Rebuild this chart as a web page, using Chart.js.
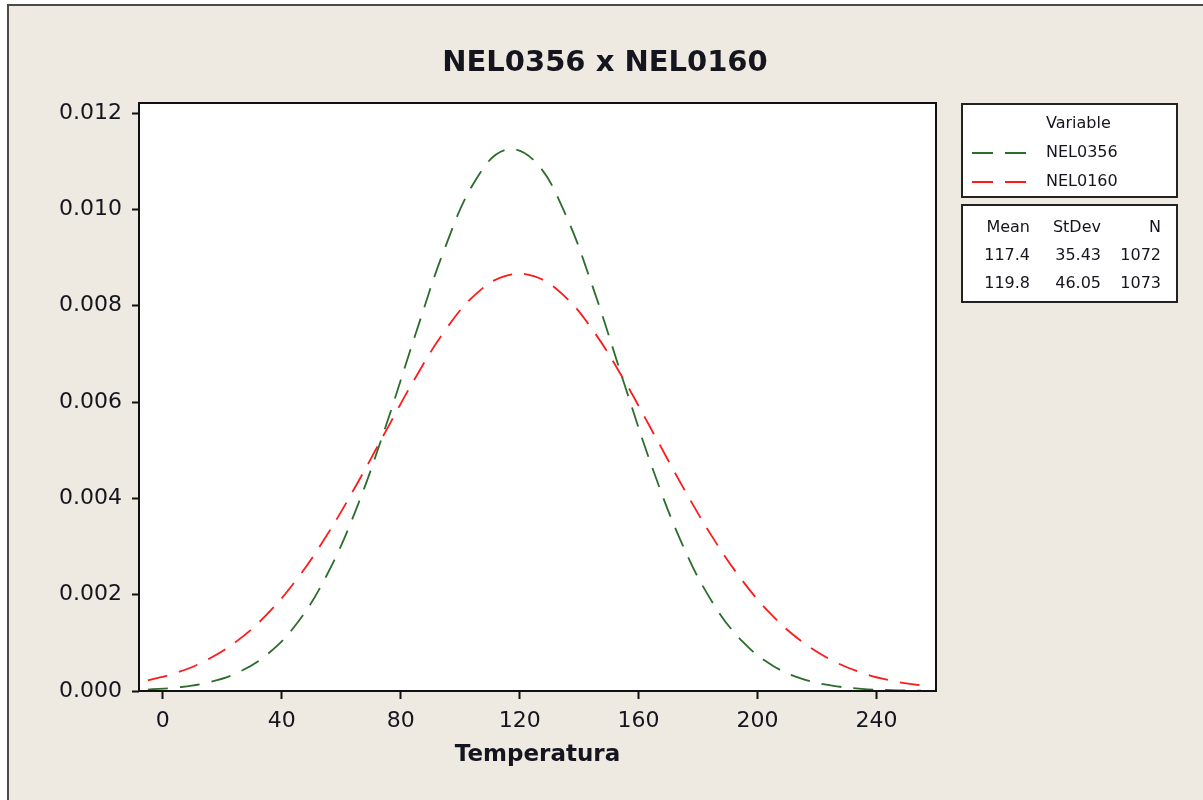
<!DOCTYPE html>
<html><head><meta charset="utf-8">
<script src="https://cdn.jsdelivr.net/npm/chart.js@4/dist/chart.umd.min.js"></script>
<style>html,body{margin:0;padding:0;background:#fff;overflow:hidden}#wrap{position:absolute;left:0;top:0;width:1203px;height:800px}</style>
</head><body><div id="wrap"><canvas id="c" width="1203" height="800"></canvas></div>
<script>
const chartTitle = 'NEL0356 x NEL0160';
const xAxisTitle = 'Temperatura';
const legendTitle = 'Variable';
const seriesNames = ['NEL0356', 'NEL0160'];
const xValues = [-5,5,15,25,35,45,55,65,75,85,95,105,115,125,135,145,155,165,175,185,195,205,215,225,235,245,255];
const nel0356 = [0.000029,0.000074,0.000173,0.000376,0.000754,0.001396,0.002388,0.003772,0.005503,0.007412,0.009220,0.010591,0.011234,0.011004,0.009953,0.008313,0.006412,0.004567,0.003004,0.001824,0.001023,0.000530,0.000253,0.000112,0.000046,0.000017,0.000006];
const nel0160 = [0.000220,0.000387,0.000650,0.001041,0.001590,0.002316,0.003219,0.004268,0.005397,0.006511,0.007494,0.008227,0.008616,0.008608,0.008204,0.007458,0.006468,0.005352,0.004224,0.003180,0.002284,0.001565,0.001023,0.000638,0.000379,0.000215,0.000116];
const statHeaders = ['Mean', 'StDev', 'N'];
const means = ['117.4', '119.8'];
const stdevs = ['35.43', '46.05'];
const counts = ['1072', '1073'];
const xTicks = [0, 40, 80, 120, 160, 200, 240];
const yTicks = [0, 0.002, 0.004, 0.006, 0.008, 0.010, 0.012];

const FONT = "'DejaVu Sans', sans-serif";
const TXT = '#15151f';
const BG = '#EEEAE1';
const colors = ['#2C6C2C', '#FF1A1A'];

const toPts = (ys) => xValues.map((x, i) => ({x: x, y: ys[i]}));

const decor = {
  id: 'decor',
  beforeDraw(chart) {
    const ctx = chart.ctx, a = chart.chartArea;
    ctx.save();
    ctx.fillStyle = '#fff';
    ctx.fillRect(0, 0, 1203, 800);
    ctx.fillStyle = BG;
    ctx.fillRect(8, 5, 1195, 795);
    ctx.strokeStyle = '#4a4a4a';
    ctx.lineWidth = 2;
    ctx.beginPath();
    ctx.moveTo(8, 800); ctx.lineTo(8, 5); ctx.lineTo(1203, 5);
    ctx.stroke();
    ctx.fillStyle = '#fff';
    ctx.fillRect(a.left, a.top, a.right - a.left, a.bottom - a.top);
    ctx.restore();
  },
  afterDatasetsDraw(chart) {
    const ctx = chart.ctx, a = chart.chartArea;
    ctx.save();
    ctx.strokeStyle = '#111';
    ctx.lineWidth = 2;
    ctx.strokeRect(a.left, a.top, a.right - a.left, a.bottom - a.top);
    ctx.restore();
  },
  afterDraw(chart) {
    const ctx = chart.ctx, a = chart.chartArea;
    ctx.save();
    ctx.fillStyle = TXT;
    ctx.textBaseline = 'middle';
    ctx.textAlign = 'center';
    ctx.font = 'bold 29px ' + FONT;
    ctx.fillText(chartTitle, 605, 63);
    ctx.font = 'bold 23px ' + FONT;
    ctx.fillText(xAxisTitle, (a.left + a.right) / 2, 755);

    // legend box
    ctx.fillStyle = '#fff';
    ctx.fillRect(962, 104, 215, 93);
    ctx.fillRect(962, 205, 215, 97);
    ctx.strokeStyle = '#222';
    ctx.lineWidth = 2;
    ctx.strokeRect(962, 104, 215, 93);
    ctx.strokeRect(962, 205, 215, 97);
    ctx.font = '16px ' + FONT;
    ctx.fillStyle = TXT;
    ctx.textAlign = 'left';
    ctx.fillText(legendTitle, 1046, 124);
    const ds = chart.data.datasets;
    ds.forEach((d, i) => {
      const y = 153 + i * 29;
      ctx.strokeStyle = d.borderColor;
      ctx.lineWidth = 2;
      ctx.setLineDash([21, 12]);
      ctx.beginPath(); ctx.moveTo(972, y); ctx.lineTo(1027, y); ctx.stroke();
      ctx.setLineDash([]);
      ctx.fillStyle = TXT;
      ctx.fillText(d.label, 1046, y);
    });
    // stats
    ctx.textAlign = 'right';
    const cols = [1030, 1101, 1161];
    ctx.fillText(statHeaders[0], cols[0], 228);
    ctx.fillText(statHeaders[1], cols[1], 228);
    ctx.fillText(statHeaders[2], cols[2], 228);
    for (let i = 0; i < means.length; i++) {
      const y = 256 + i * 28;
      ctx.fillText(means[i], cols[0], y);
      ctx.fillText(stdevs[i], cols[1], y);
      ctx.fillText(counts[i], cols[2], y);
    }
    ctx.restore();
  }
};

new Chart(document.getElementById('c'), {
  type: 'line',
  data: {
    datasets: [
      {label: seriesNames[0], data: toPts(nel0356), borderColor: colors[0], borderWidth: 1.8, borderDash: [20, 12], pointRadius: 0, fill: false, tension: 0.4},
      {label: seriesNames[1], data: toPts(nel0160), borderColor: colors[1], borderWidth: 1.8, borderDash: [20, 12], pointRadius: 0, fill: false, tension: 0.4}
    ]
  },
  options: {
    responsive: false,
    devicePixelRatio: 1,
    animation: false,
    events: [],
    layout: {padding: {left: 0, top: 103, right: 267, bottom: 0}},
    plugins: {legend: {display: false}, title: {display: false}, tooltip: {enabled: false}},
    scales: {
      x: {
        type: 'linear', min: -8, max: 260,
        afterFit(s) { s.height = 109; },
        afterBuildTicks(s) { s.ticks = xTicks.map(v => ({value: v})); },
        grid: {drawOnChartArea: false, drawTicks: true, tickLength: 8, tickColor: '#111', tickWidth: 2},
        border: {display: false},
        ticks: {color: TXT, font: {family: FONT, size: 22}, padding: 9, maxRotation: 0}
      },
      y: {
        type: 'linear', min: 0, max: 0.01221,
        afterFit(s) { s.width = 139; },
        afterBuildTicks(s) { s.ticks = yTicks.map(v => ({value: v})); },
        grid: {drawOnChartArea: false, drawTicks: true, tickLength: 7, tickColor: '#111', tickWidth: 2},
        border: {display: false},
        ticks: {color: TXT, font: {family: FONT, size: 22}, padding: 10, callback: v => v.toFixed(3)}
      }
    }
  },
  plugins: [decor]
});
</script></body></html>
